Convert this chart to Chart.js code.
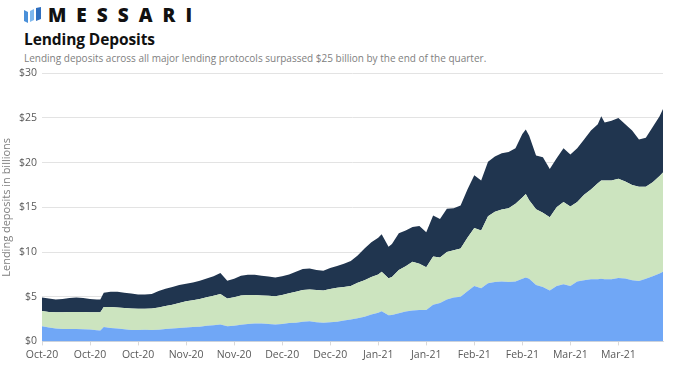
<!DOCTYPE html>
<html>
<head>
<meta charset="utf-8">
<script src="https://cdn.jsdelivr.net/npm/chart.js@4.4.1/dist/chart.umd.min.js"></script>
<style>
  html, body { margin:0; padding:0; background:#fff; }
  body { width:686px; height:365px; position:relative; overflow:hidden; font-family:'Open Sans', sans-serif; }
  .logo { position:absolute; left:24px; top:5px; height:20px; display:flex; align-items:center; }
  .logo-txt { font-family:'Open Sans', sans-serif; font-weight:800; font-size:19px; letter-spacing:10px; color:#111; margin-left:6px; line-height:20px; }
  .title { position:absolute; left:24px; top:28px; font-size:15.5px; font-weight:700; color:#111; letter-spacing:-0.1px; }
  .sub { position:absolute; left:24px; top:51px; font-size:10px; color:#808080; }
  .wrap { position:absolute; left:0; top:62px; width:686px; height:303px; }
</style>
</head>
<body>
<div class="logo">
  <svg width="18" height="16" viewBox="0 0 18 16">
    <path d="M0 3 L4 5 L4 16 L0 14 Z" fill="#4a90d9"/>
    <path d="M6 4 L10 2 L10 13 L6 15 Z" fill="#7fb8ee"/>
    <path d="M12 1 L17 0 L17 12 L12 14 Z" fill="#2f6fbf"/>
  </svg>
  <span class="logo-txt">MESSARI</span>
</div>
<div class="title">Lending Deposits</div>
<div class="sub">Lending deposits across all major lending protocols surpassed $25 billion by the end of the quarter.</div>
<div class="wrap"><canvas id="c"></canvas></div>
<script>
// days since 1 Oct 2020
const days = [0,2,4,6,8,10,12,14,16,17,18,20,22,24,26,28,30,32,34,36,38,40,42,44,46,48,50,52,54,56,58,60,62,64,66,68,70,72,74,76,78,80,82,84,86,88,90,92,94,96,98,99,101,102,104,106,108,110,112,114,116,118,120,122,124,126,128,130,132,134,136,138,140,141,142,144,146,148,150,152,154,156,158,160,162,163,164,166,168,170,172,174,176,178,180,181];

// stacked levels, $ billions (bottom layer, bottom+middle, total)
const blueTop = [1.70,1.55,1.45,1.40,1.40,1.38,1.35,1.32,1.25,1.22,1.60,1.50,1.45,1.35,1.28,1.27,1.30,1.28,1.30,1.38,1.45,1.50,1.55,1.60,1.65,1.75,1.80,1.90,1.70,1.75,1.85,1.95,2.00,2.00,1.95,1.90,1.95,2.05,2.10,2.20,2.25,2.15,2.10,2.15,2.20,2.35,2.45,2.60,2.75,3.00,3.20,3.38,2.93,2.95,3.15,3.35,3.45,3.50,3.50,4.10,4.30,4.70,4.90,5.00,5.60,6.20,5.95,6.50,6.65,6.70,6.65,6.70,7.00,7.15,7.00,6.30,6.10,5.70,6.20,6.40,6.20,6.70,6.85,6.95,6.95,7.00,6.95,6.95,7.10,7.05,6.85,6.75,7.00,7.30,7.60,7.80];
const greenTop = [3.40,3.30,3.25,3.25,3.30,3.30,3.28,3.27,3.25,3.25,3.85,3.85,3.80,3.75,3.68,3.65,3.65,3.68,3.80,3.95,4.10,4.30,4.50,4.60,4.75,4.95,5.10,5.30,4.80,4.95,5.15,5.20,5.20,5.15,5.10,5.05,5.20,5.40,5.55,5.75,5.80,5.75,5.70,5.85,6.00,6.10,6.20,6.55,6.85,7.20,7.50,7.80,7.07,7.20,8.00,8.40,8.90,8.70,8.30,9.50,9.40,10.00,10.20,10.40,11.60,12.70,12.40,14.00,14.50,14.75,14.90,15.40,16.10,16.50,15.80,14.80,14.40,13.90,15.00,15.60,15.10,15.60,16.40,17.00,17.70,18.00,18.00,18.00,18.20,17.90,17.50,17.30,17.30,17.80,18.50,18.90];
const total = [4.90,4.80,4.70,4.75,4.85,4.90,4.85,4.75,4.70,4.70,5.45,5.55,5.55,5.45,5.35,5.25,5.25,5.30,5.65,5.90,6.10,6.30,6.45,6.60,6.80,7.05,7.30,7.65,6.80,7.00,7.35,7.45,7.45,7.35,7.25,7.15,7.30,7.50,7.80,8.10,8.15,8.00,7.90,8.20,8.45,8.70,9.00,9.60,10.40,11.10,11.60,12.00,10.60,10.90,12.10,12.40,12.80,12.90,12.20,14.10,13.70,14.85,14.90,15.20,17.00,18.60,18.00,20.10,20.70,21.05,21.20,21.60,23.20,23.70,23.00,20.80,20.60,19.30,20.50,21.60,20.90,21.60,22.60,23.60,24.30,25.20,24.50,24.70,25.00,24.30,23.60,22.60,22.80,24.00,25.20,26.00];

const yTicks = [0,5,10,15,20,25,30];
const xTicks = [0,14,28,42,56,70,84,98,112,126,140,154,168];
const MONTHS = ['Jan','Feb','Mar','Apr','May','Jun','Jul','Aug','Sep','Oct','Nov','Dec'];
const fmtDay = d => { const dt = new Date(2020, 9, 1 + d); return MONTHS[dt.getMonth()] + '-' + String(dt.getFullYear()).slice(2); };

const pts = arr => arr.map((v, i) => ({ x: days[i], y: v }));

new Chart(document.getElementById('c'), {
  type: 'line',
  data: {
    datasets: [
      { label: 'Blue', data: pts(blueTop), fill: 'origin', backgroundColor: '#70a7f6', borderWidth: 0, pointRadius: 0 },
      { label: 'Green', data: pts(greenTop), fill: '-1', backgroundColor: '#cce4bf', borderWidth: 0, pointRadius: 0 },
      { label: 'Navy', data: pts(total), fill: '-1', backgroundColor: '#20354f', borderWidth: 0, pointRadius: 0 },
    ]
  },
  options: {
    responsive: true, maintainAspectRatio: false, animation: false,
    layout: { padding: { left: 0, right: 23, top: 8, bottom: 1 } },
    plugins: { legend: { display: false }, tooltip: { enabled: false } },
    scales: {
      x: {
        type: 'linear', min: 0, max: 181,
        grid: { drawOnChartArea: false, color: '#d9d9d9', tickLength: 4 },
        border: { color: '#d9d9d9' },
        ticks: { color: '#595959', font: { family: 'Open Sans', size: 10.5 }, maxRotation: 0, autoSkip: false,
          callback: v => fmtDay(v) },
        afterBuildTicks: s => { s.ticks = xTicks.map(v => ({ value: v })); },
      },
      y: {
        min: 0, max: 30,
        grid: { color: '#e3e3e3', drawTicks: false },
        border: { display: false },
        ticks: { color: '#595959', padding: 5, font: { family: 'Open Sans', size: 10.5 }, callback: v => '$' + v },
        afterBuildTicks: s => { s.ticks = yTicks.map(v => ({ value: v })); },
        title: { display: true, text: 'Lending deposits in billions', color: '#7f7f7f', font: { family: 'Open Sans', size: 11 }, padding: 0 },
        afterFit: s => { s.width = 42; },
      },
    },
  }
});
</script>
</body>
</html>
